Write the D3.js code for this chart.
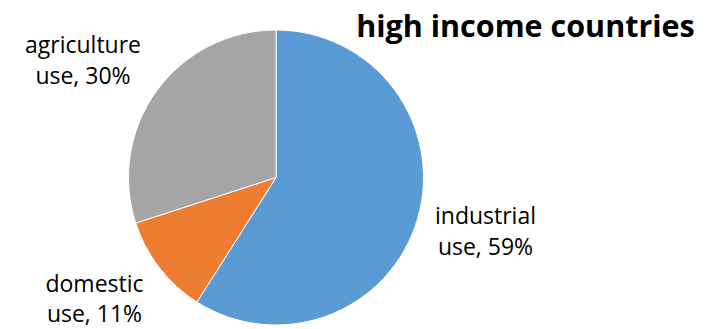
<!DOCTYPE html>
<html>
<head>
<meta charset="utf-8">
<script src="https://cdn.jsdelivr.net/npm/d3@7"></script>
<style>
  html, body { margin: 0; padding: 0; background: #fff; }
  svg { display: block; }
</style>
</head>
<body>
<svg id="chart" width="712" height="329"></svg>
<script>
// Water use shares, high income countries
const categories = ["industrial", "domestic", "agriculture"];
const values = [59, 11, 30];
const colors = ["#5B9BD5", "#ED7D31", "#A5A5A5"];
const title = "high income countries";

const svg = d3.select("#chart");
const cx = 276, cy = 177.5, r = 147.5;

const pie = d3.pie().sort(null).value(d => d.value);
const arcs = pie(categories.map((c, i) => ({ name: c, value: values[i], color: colors[i] })));
const arc = d3.arc().innerRadius(0).outerRadius(r);

const g = svg.append("g").attr("transform", `translate(${cx},${cy})`);
g.selectAll("path")
  .data(arcs)
  .join("path")
  .attr("d", arc)
  .attr("fill", d => d.data.color)
  .attr("stroke", "#fff")
  .attr("stroke-width", 1);

// Category labels placed outside the pie
const labelPos = {
  industrial: { x: 485.5, y: 224 },
  domestic: { x: 94.5, y: 291.5 },
  agriculture: { x: 83, y: 53 }
};
const font = "'Open Sans', sans-serif";
arcs.forEach(d => {
  const p = labelPos[d.data.name];
  const t = svg.append("text")
    .attr("text-anchor", "middle")
    .attr("font-family", font)
    .attr("font-size", 23)
    .attr("fill", "#000");
  t.append("tspan").attr("x", p.x).attr("y", p.y).text(d.data.name);
  t.append("tspan").attr("x", p.x).attr("y", p.y + 30.5).text(`use, ${d.data.value}%`);
});

svg.append("text")
  .attr("x", 525.5)
  .attr("y", 37)
  .attr("text-anchor", "middle")
  .attr("font-family", font)
  .attr("font-weight", "bold")
  .attr("font-size", 30.5)
  .attr("fill", "#000")
  .text(title);
</script>
</body>
</html>
